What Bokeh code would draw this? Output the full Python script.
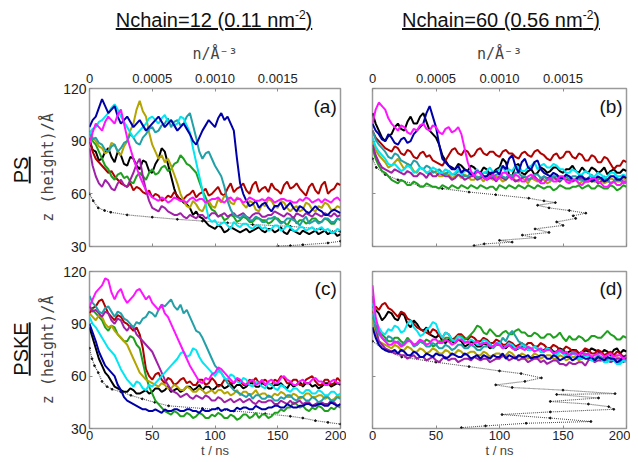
from bokeh.plotting import figure
from bokeh.models import Range1d, LinearAxis, FixedTicker, CustomJSTickFormatter, Label, Div
from bokeh.layouts import row, column
from bokeh.embed import file_html
from bokeh.resources import INLINE

# ---------------- data ----------------
T = [0, 2.5, 5, 7.5, 10, 12.5, 15, 17.5,
     20, 22.5, 25, 27.5, 30, 32.5, 35, 37.5,
     40, 42.5, 45, 47.5, 50, 52.5, 55, 57.5,
     60, 62.5, 65, 67.5, 70, 72.5, 75, 77.5,
     80, 82.5, 85, 87.5, 90, 92.5, 95, 97.5,
     100, 102.5, 105, 107.5, 110, 112.5, 115, 117.5,
     120, 122.5, 125, 127.5, 130, 132.5, 135, 137.5,
     140, 142.5, 145, 147.5, 150, 152.5, 155, 157.5,
     160, 162.5, 165, 167.5, 170, 172.5, 175, 177.5,
     180, 182.5, 185, 187.5, 190, 192.5, 195, 197.5,
     200]
X_TICKS = [0, 50, 100, 150, 200]
Y_TICKS = [30, 60, 90, 120]
N_TICKS = [0, 0.0005, 0.001, 0.0015]
COL_TITLES = ["Nchain=12 (0.11 nm", "Nchain=60 (0.56 nm"]
ROW_TITLES = ["PS", "PSKE"]
TAGS = ["(a)", "(b)", "(c)", "(d)"]

# ---- panel (a): PS, Nchain=12 ----
a_black = [90, 85, 84, 79, 80, 84, 86, 81, 78, 84, 82, 77, 76, 81, 80, 76,
           74, 79, 78, 73, 72, 77, 80, 86, 84, 77, 70, 63, 58, 57, 55, 54,
           52, 48, 50, 47, 46, 44, 42, 41, 40, 42, 41, 38, 39, 41, 40, 39,
           38, 39, 40, 38, 39, 40, 41, 39, 38, 40, 40, 38, 39, 41, 38, 37,
           40, 39, 38, 37, 39, 38, 37, 38, 39, 37, 38, 39, 37, 38, 38, 36, 37]
a_red = [92, 84, 80, 78, 76, 74, 72, 73, 70, 68, 66, 65, 64, 66, 62, 64,
         63, 61, 60, 62, 58, 60, 59, 56, 57, 59, 58, 61, 59, 56, 57, 59,
         60, 62, 58, 60, 61, 63, 59, 60, 62, 64, 60, 59, 63, 66, 61, 63,
         64, 66, 62, 60, 65, 67, 61, 63, 64, 61, 66, 63, 62, 60, 65, 67,
         63, 64, 66, 63, 61, 59, 64, 66, 62, 60, 65, 67, 60, 62, 63, 66, 65]
a_green = [96, 90, 88, 84, 80, 76, 74, 70, 68, 71, 72, 69, 70, 67, 66, 70,
           72, 70, 68, 72, 74, 71, 72, 75, 76, 73, 74, 77, 78, 82, 80, 77,
           76, 74, 72, 67, 62, 58, 54, 51, 50, 47, 48, 45, 46, 48, 47, 44,
           45, 47, 46, 44, 44, 46, 46, 45, 45, 43, 44, 46, 46, 44, 44, 42,
           45, 47, 43, 45, 45, 43, 44, 46, 46, 44, 44, 46, 45, 43, 43, 46, 45]
a_olive = [95, 92, 90, 87, 86, 83, 84, 89, 88, 84, 82, 87, 90, 96, 100, 108,
           113, 107, 104, 95, 88, 84, 80, 82, 78, 80, 76, 71, 66, 60, 56, 53,
           52, 56, 54, 51, 50, 54, 56, 53, 52, 57, 55, 59, 58, 55, 54, 58,
           57, 54, 52, 56, 55, 51, 50, 54, 53, 57, 56, 53, 52, 56, 55, 52,
           50, 52, 53, 50, 51, 55, 54, 51, 50, 53, 52, 55, 54, 51, 51, 53, 52]
a_purple = [86, 76, 70, 66, 64, 68, 66, 63, 62, 66, 68, 65, 64, 68, 72, 77,
            80, 70, 62, 56, 52, 51, 50, 53, 52, 50, 49, 48, 48, 49, 47, 46,
            48, 47, 46, 48, 48, 46, 47, 49, 49, 47, 48, 49, 47, 48, 49, 47,
            48, 49, 47, 46, 48, 49, 49, 47, 47, 48, 48, 50, 49, 48, 47, 49,
            48, 46, 49, 48, 47, 49, 48, 47, 49, 48, 47, 49, 48, 47, 49, 47, 48]
a_teal = [95, 91, 92, 89, 88, 85, 84, 87, 88, 84, 86, 89, 90, 94, 92, 89,
          88, 92, 94, 97, 98, 95, 96, 99, 100, 103, 98, 101, 102, 99, 100, 104,
          106, 99, 92, 84, 80, 83, 84, 80, 76, 73, 70, 64, 56, 51, 48, 47,
          46, 48, 47, 45, 45, 47, 46, 44, 44, 46, 46, 47, 45, 43, 44, 46,
          46, 45, 44, 42, 45, 47, 43, 44, 45, 43, 44, 46, 46, 44, 44, 46, 45]
a_cyan = [94, 97, 98, 101, 102, 104, 106, 109, 111, 108, 104, 101, 98, 95, 92, 94,
          96, 98, 100, 103, 104, 102, 100, 103, 105, 101, 102, 99, 100, 104, 103, 99,
          95, 86, 78, 70, 62, 54, 46, 44, 45, 42, 43, 44, 42, 40, 44, 42,
          41, 43, 43, 41, 40, 42, 42, 40, 41, 39, 40, 42, 42, 39, 40, 42,
          41, 39, 39, 41, 41, 39, 40, 41, 39, 40, 41, 39, 40, 38, 38, 40, 39]
a_blue = [98, 102, 104, 109, 114, 110, 106, 108, 110, 104, 100, 102, 104, 101, 98, 100,
          102, 99, 96, 98, 100, 102, 104, 101, 98, 100, 102, 99, 96, 98, 100, 97,
          94, 90, 88, 92, 96, 99, 102, 100, 98, 103, 106, 102, 104, 100, 96, 80,
          66, 60, 56, 53, 54, 56, 52, 54, 55, 52, 50, 53, 53, 55, 51, 53,
          55, 52, 50, 53, 52, 50, 49, 51, 53, 51, 50, 48, 48, 50, 51, 50, 49]
a_magenta = [88, 95, 100, 98, 96, 101, 104, 102, 100, 105, 108, 100, 92, 86, 80, 75,
             70, 66, 62, 60, 58, 57, 56, 58, 57, 55, 56, 58, 57, 56, 56, 55,
             57, 58, 56, 57, 57, 55, 56, 57, 57, 58, 56, 55, 57, 58, 56, 57,
             57, 55, 56, 58, 57, 56, 56, 57, 56, 58, 57, 55, 56, 57, 57, 56,
             56, 55, 55, 57, 56, 58, 57, 55, 56, 57, 55, 57, 56, 55, 57, 58, 56]

# ---- panel (b): PS, Nchain=60 ----
b_black = [106, 100, 96, 92, 90, 93, 94, 98, 100, 97, 96, 101, 104, 100, 100, 104,
           106, 101, 96, 94, 92, 88, 82, 79, 76, 75, 74, 77, 76, 74, 73, 76,
           75, 73, 72, 75, 74, 71, 72, 74, 75, 80, 78, 71, 70, 76, 77, 72,
           71, 73, 74, 71, 72, 75, 74, 72, 73, 75, 75, 73, 72, 74, 74, 76,
           73, 72, 75, 73, 72, 75, 74, 72, 73, 75, 71, 73, 74, 72, 72, 74, 73]
b_red = [96, 92, 90, 88, 86, 85, 84, 87, 86, 83, 82, 85, 84, 81, 80, 83,
         84, 81, 82, 79, 78, 77, 76, 79, 82, 85, 86, 83, 82, 85, 84, 81,
         82, 85, 86, 83, 82, 84, 84, 82, 81, 84, 85, 83, 83, 81, 80, 83,
         84, 82, 81, 84, 85, 83, 82, 80, 79, 82, 83, 80, 81, 84, 84, 81,
         80, 83, 82, 79, 79, 82, 81, 78, 78, 81, 80, 77, 74, 76, 76, 79, 78]
b_green = [86, 80, 76, 73, 72, 70, 68, 67, 66, 68, 67, 65, 65, 67, 66, 64,
           64, 66, 65, 64, 64, 63, 65, 64, 63, 65, 64, 63, 65, 64, 63, 65,
           64, 63, 65, 64, 63, 64, 64, 62, 65, 64, 63, 65, 64, 63, 65, 64,
           63, 65, 64, 63, 65, 64, 63, 64, 64, 62, 63, 65, 64, 63, 63, 64,
           64, 65, 63, 64, 65, 63, 63, 65, 64, 63, 63, 65, 64, 62, 63, 65, 64]
b_olive = [90, 85, 82, 80, 78, 75, 76, 78, 80, 77, 74, 77, 76, 73, 72, 75,
           74, 72, 71, 73, 72, 70, 70, 72, 71, 69, 70, 71, 69, 71, 70, 68,
           68, 70, 69, 67, 70, 69, 68, 70, 69, 67, 68, 70, 69, 68, 67, 69,
           68, 66, 69, 68, 67, 69, 68, 66, 67, 69, 68, 67, 69, 70, 67, 68,
           68, 66, 67, 69, 68, 67, 67, 69, 68, 66, 67, 69, 68, 67, 67, 69, 68]
b_purple = [88, 82, 78, 75, 74, 73, 72, 74, 73, 72, 71, 73, 72, 70, 70, 72,
            71, 69, 72, 70, 70, 72, 71, 70, 70, 68, 69, 71, 70, 68, 69, 70,
            70, 68, 69, 70, 68, 69, 69, 67, 70, 69, 68, 70, 69, 67, 68, 69,
            70, 68, 69, 70, 68, 67, 70, 69, 69, 70, 68, 67, 69, 68, 68, 67,
            68, 69, 69, 67, 67, 68, 68, 66, 67, 69, 68, 66, 67, 69, 68, 67, 67]
b_teal = [96, 91, 88, 86, 84, 81, 80, 83, 82, 79, 78, 77, 76, 79, 78, 75,
          74, 76, 75, 72, 73, 74, 72, 71, 73, 71, 71, 73, 72, 70, 70, 72,
          71, 69, 70, 72, 72, 70, 70, 71, 71, 70, 69, 71, 70, 72, 72, 70,
          70, 68, 69, 71, 71, 69, 70, 68, 68, 70, 70, 68, 69, 70, 68, 70,
          70, 68, 68, 67, 69, 71, 67, 68, 69, 70, 68, 66, 67, 69, 68, 66, 67]
b_cyan = [92, 87, 84, 82, 80, 77, 76, 77, 75, 73, 74, 76, 75, 72, 73, 75,
          74, 72, 73, 75, 74, 72, 72, 74, 73, 71, 72, 74, 71, 73, 73, 71,
          72, 74, 71, 72, 73, 75, 72, 73, 74, 76, 72, 74, 73, 76, 75, 73,
          73, 75, 76, 78, 74, 76, 77, 75, 75, 77, 76, 74, 74, 72, 72, 74,
          73, 71, 71, 73, 72, 70, 70, 72, 71, 69, 70, 72, 72, 70, 70, 71, 70]
b_blue = [100, 96, 94, 91, 90, 94, 92, 89, 88, 91, 92, 89, 90, 94, 96, 98,
          100, 106, 110, 104, 98, 88, 80, 78, 76, 74, 74, 76, 72, 74, 73, 71,
          71, 73, 72, 70, 70, 72, 72, 73, 71, 76, 74, 80, 82, 76, 72, 78,
          80, 75, 74, 78, 79, 74, 72, 71, 70, 72, 71, 69, 69, 71, 70, 68,
          68, 70, 70, 68, 69, 67, 68, 70, 69, 67, 68, 70, 70, 68, 68, 70, 69]
b_magenta = [100, 108, 112, 110, 108, 103, 100, 98, 96, 99, 98, 95, 94, 97, 96, 99,
             100, 97, 96, 99, 98, 95, 94, 97, 98, 95, 96, 98, 94, 86, 78, 73,
             70, 73, 72, 69, 68, 70, 71, 68, 69, 72, 72, 70, 68, 71, 70, 67,
             67, 70, 71, 69, 68, 66, 66, 68, 69, 67, 67, 70, 70, 67, 66, 68,
             68, 66, 65, 67, 67, 69, 69, 67, 66, 64, 64, 66, 67, 65, 65, 67, 66]

# ---- panel (c): PSKE, Nchain=12 ----
c_black = [88, 82, 76, 70, 66, 62, 60, 57, 54, 53, 52, 51, 51, 53, 52, 50,
           50, 51, 52, 50, 51, 53, 53, 51, 52, 54, 51, 52, 53, 51, 52, 54,
           54, 52, 53, 55, 52, 54, 54, 52, 53, 55, 55, 53, 54, 56, 53, 55,
           55, 53, 54, 56, 56, 54, 54, 56, 55, 53, 53, 55, 55, 56, 54, 53,
           56, 54, 55, 57, 54, 56, 56, 54, 55, 53, 54, 56, 56, 54, 55, 56, 55]
c_red = [96, 99, 100, 103, 104, 100, 96, 94, 92, 95, 94, 91, 90, 88, 86, 88,
         84, 76, 64, 60, 58, 61, 62, 58, 56, 59, 58, 55, 56, 58, 59, 56,
         57, 55, 55, 58, 58, 55, 56, 59, 57, 54, 55, 58, 58, 56, 56, 58,
         57, 55, 55, 58, 57, 59, 56, 57, 58, 56, 55, 58, 57, 60, 59, 56,
         56, 58, 58, 55, 55, 58, 59, 60, 57, 55, 55, 58, 58, 55, 56, 59, 57]
c_green = [100, 98, 96, 94, 92, 88, 86, 89, 88, 84, 82, 80, 80, 83, 82, 78,
           76, 68, 60, 54, 50, 46, 44, 42, 40, 39, 38, 40, 39, 37, 37, 39,
           38, 36, 37, 39, 38, 36, 36, 38, 37, 39, 38, 36, 36, 38, 37, 35,
           36, 38, 38, 36, 37, 39, 36, 38, 38, 36, 37, 39, 39, 41, 40, 42,
           42, 45, 44, 42, 43, 41, 40, 42, 41, 43, 42, 40, 40, 42, 41, 43, 42]
c_olive = [96, 94, 92, 95, 94, 90, 88, 89, 86, 84, 82, 80, 78, 74, 70, 66,
           62, 60, 58, 57, 56, 55, 54, 56, 55, 53, 53, 55, 54, 52, 52, 54,
           53, 51, 51, 53, 52, 50, 51, 52, 50, 52, 52, 50, 51, 49, 50, 52,
           49, 51, 51, 49, 50, 52, 49, 50, 50, 48, 48, 50, 49, 51, 50, 48,
           48, 50, 49, 47, 48, 50, 50, 48, 48, 49, 49, 47, 48, 46, 47, 49, 48]
c_purple = [100, 97, 98, 96, 94, 97, 96, 92, 90, 93, 92, 88, 86, 89, 88, 84,
            82, 80, 78, 76, 74, 70, 66, 62, 58, 55, 52, 51, 50, 48, 49, 50,
            48, 47, 49, 48, 47, 49, 48, 46, 46, 48, 47, 45, 46, 47, 45, 46,
            47, 45, 46, 47, 45, 44, 46, 45, 45, 46, 46, 44, 44, 46, 45, 44,
            46, 44, 45, 46, 44, 45, 45, 43, 44, 45, 45, 44, 44, 46, 45, 43, 44]
c_teal = [106, 102, 100, 97, 96, 99, 100, 97, 94, 97, 96, 93, 92, 90, 88, 91,
          90, 93, 94, 97, 96, 94, 98, 101, 100, 102, 104, 100, 98, 101, 96, 98,
          94, 90, 86, 85, 82, 78, 74, 70, 66, 64, 62, 59, 56, 54, 52, 51,
          50, 49, 48, 50, 47, 49, 49, 47, 47, 49, 48, 46, 46, 48, 47, 49,
          49, 47, 46, 48, 48, 46, 46, 48, 47, 45, 46, 48, 48, 46, 46, 48, 47]
c_magenta = [100, 104, 108, 110, 112, 116, 115, 108, 104, 108, 110, 105, 102, 104, 106, 109,
             110, 107, 104, 106, 102, 100, 98, 101, 96, 94, 90, 86, 82, 78, 74, 70,
             66, 63, 60, 57, 56, 59, 58, 61, 62, 65, 64, 62, 60, 58, 56, 59,
             58, 56, 55, 57, 58, 55, 56, 58, 55, 57, 58, 56, 56, 59, 60, 58,
             57, 55, 55, 57, 58, 56, 56, 58, 59, 57, 57, 55, 55, 57, 58, 56, 56]
c_cyan = [94, 90, 88, 85, 82, 79, 76, 74, 72, 68, 64, 61, 58, 56, 54, 57,
          56, 53, 52, 55, 54, 56, 58, 60, 62, 64, 66, 68, 70, 73, 74, 71,
          72, 76, 75, 71, 68, 66, 64, 62, 60, 63, 62, 59, 58, 61, 60, 57,
          56, 59, 58, 55, 54, 57, 56, 54, 53, 56, 55, 53, 52, 55, 54, 52,
          51, 53, 53, 51, 50, 52, 52, 50, 50, 52, 51, 49, 49, 51, 51, 49, 50]
c_blue = [90, 85, 80, 74, 70, 66, 64, 62, 60, 55, 52, 48, 46, 45, 44, 43,
          42, 41, 41, 40, 40, 41, 40, 39, 41, 40, 40, 41, 41, 40, 40, 41,
          41, 40, 40, 39, 41, 40, 40, 41, 41, 42, 40, 41, 41, 40, 40, 42,
          41, 42, 42, 41, 41, 43, 42, 41, 41, 42, 42, 43, 43, 42, 42, 44,
          43, 42, 42, 43, 43, 44, 44, 43, 43, 44, 44, 43, 43, 45, 44, 43, 44]

# ---- panel (d): PSKE, Nchain=60 ----
d_black = [100, 98, 96, 92, 94, 97, 96, 93, 92, 96, 95, 90, 88, 92, 90, 87,
           86, 88, 84, 83, 82, 84, 80, 79, 81, 80, 79, 81, 80, 77, 78, 80,
           79, 77, 77, 79, 78, 76, 77, 78, 78, 77, 76, 78, 77, 75, 76, 77,
           77, 75, 75, 77, 76, 74, 75, 76, 76, 74, 74, 76, 75, 73, 74, 75,
           75, 73, 73, 75, 74, 76, 75, 74, 73, 75, 74, 72, 75, 76, 73, 75, 74]
d_red = [96, 100, 98, 101, 102, 99, 98, 96, 94, 97, 96, 93, 92, 90, 88, 87,
         86, 85, 84, 87, 86, 83, 82, 85, 84, 81, 82, 84, 84, 82, 81, 83,
         82, 80, 80, 82, 81, 79, 79, 81, 80, 78, 78, 80, 79, 77, 78, 79,
         77, 79, 79, 77, 77, 79, 78, 76, 76, 78, 77, 75, 75, 77, 76, 74,
         75, 73, 74, 76, 75, 73, 73, 75, 74, 72, 73, 74, 72, 74, 73, 71, 72]
d_green = [94, 89, 86, 84, 82, 80, 80, 82, 82, 80, 79, 82, 80, 78, 78, 80,
           79, 81, 80, 77, 78, 80, 80, 82, 82, 80, 81, 83, 83, 81, 82, 84,
           86, 89, 88, 85, 84, 87, 85, 83, 83, 85, 86, 84, 84, 86, 87, 85,
           85, 83, 83, 85, 84, 82, 82, 84, 84, 82, 83, 85, 82, 80, 83, 81,
           81, 83, 82, 80, 81, 83, 83, 82, 82, 84, 86, 84, 83, 81, 81, 83, 82]
d_olive = [92, 84, 80, 79, 78, 77, 76, 78, 77, 75, 75, 77, 76, 74, 74, 76,
           75, 73, 74, 76, 75, 73, 73, 75, 74, 72, 73, 75, 74, 72, 73, 74,
           74, 72, 72, 74, 73, 71, 72, 73, 73, 71, 72, 74, 73, 71, 71, 73,
           72, 70, 71, 73, 72, 70, 71, 72, 72, 70, 70, 72, 71, 69, 70, 71,
           71, 69, 70, 72, 71, 69, 70, 71, 69, 71, 70, 68, 69, 71, 70, 69, 70]
d_purple = [106, 88, 80, 78, 76, 75, 74, 73, 73, 72, 72, 70, 71, 72, 70, 71,
            71, 69, 70, 71, 69, 68, 70, 71, 69, 70, 70, 68, 69, 70, 70, 69,
            71, 70, 69, 70, 70, 68, 69, 70, 70, 72, 71, 69, 70, 71, 69, 70,
            70, 68, 69, 70, 70, 68, 69, 67, 68, 69, 69, 67, 67, 66, 68, 67,
            67, 68, 68, 66, 69, 70, 68, 69, 69, 71, 70, 68, 69, 70, 70, 68, 69]
d_teal = [96, 88, 84, 82, 80, 83, 82, 79, 80, 78, 79, 81, 80, 77, 78, 80,
          79, 77, 77, 79, 78, 76, 76, 78, 77, 75, 76, 78, 78, 76, 76, 78,
          77, 75, 75, 77, 77, 79, 76, 78, 78, 82, 80, 84, 86, 83, 80, 79,
          78, 76, 75, 77, 76, 74, 74, 76, 75, 73, 73, 75, 74, 72, 72, 74,
          73, 71, 71, 73, 72, 70, 70, 72, 71, 69, 69, 71, 70, 68, 68, 70, 69]
d_cyan = [102, 92, 88, 85, 84, 87, 86, 89, 88, 85, 86, 90, 92, 88, 86, 83,
          84, 87, 88, 91, 90, 85, 82, 85, 84, 81, 80, 83, 82, 80, 79, 81,
          80, 78, 78, 81, 80, 78, 77, 79, 79, 76, 77, 79, 78, 76, 76, 78,
          77, 75, 75, 77, 76, 74, 74, 76, 75, 73, 72, 74, 73, 71, 71, 73,
          72, 70, 70, 72, 71, 69, 69, 71, 70, 68, 68, 70, 69, 67, 67, 69, 68]
d_blue = [88, 82, 78, 76, 75, 74, 74, 75, 73, 75, 74, 72, 72, 74, 73, 71,
          71, 73, 72, 71, 73, 72, 72, 70, 71, 73, 72, 71, 71, 73, 72, 70,
          71, 72, 70, 72, 71, 70, 72, 71, 71, 73, 70, 72, 71, 70, 72, 71,
          71, 72, 70, 71, 71, 72, 72, 70, 70, 72, 71, 69, 70, 71, 71, 69,
          70, 72, 71, 70, 70, 71, 69, 71, 70, 69, 71, 70, 70, 68, 69, 71, 70]
d_magenta = [112, 94, 86, 82, 80, 78, 78, 80, 79, 77, 78, 80, 80, 78, 79, 81,
             80, 78, 79, 81, 81, 79, 79, 81, 80, 78, 79, 81, 81, 79, 80, 78,
             79, 80, 78, 79, 79, 77, 77, 79, 78, 76, 77, 78, 76, 75, 77, 76,
             75, 77, 76, 74, 75, 76, 74, 75, 75, 73, 74, 75, 73, 74, 72, 73,
             73, 72, 74, 72, 73, 71, 72, 73, 73, 71, 72, 73, 71, 72, 72, 70, 71]

# density profiles: z (A) against n (A^-3), top axis
a_prof_z = [60, 56, 52, 50.5, 49.5, 48, 46.7, 45.5, 44.5, 43.5, 42.5, 41.5, 40, 38.5, 37, 35,
            33, 32, 31, 30.5, 30.2]
a_prof_n = [0, 0.00003, 0.00007, 0.00012, 0.00017, 0.0003, 0.0005, 0.0007, 0.0009, 0.0011, 0.0013,
            0.0016, 0.00184, 0.002, 0.0024, 0.0026, 0.002, 0.0019, 0.0017, 0.0016, 0.0015]
b_prof_z = [80, 75, 71, 68, 65, 63, 61, 59.5, 57.5, 56, 55, 53.5, 52, 50.5, 49, 47.5, 46, 44, 42, 40,
            38, 36.5, 35, 33.5, 32.5, 31.5, 30.5]
b_prof_n = [0, 0.00003, 0.0001, 0.0002, 0.00036, 0.00055, 0.00076, 0.00097, 0.00123, 0.00135, 0.00144,
            0.0013, 0.00139, 0.00155, 0.00168, 0.00158, 0.0016, 0.00145, 0.0015, 0.00128, 0.00139,
            0.00118, 0.00128, 0.001, 0.0011, 0.00088, 0.0008]
c_prof_z = [76, 70, 66, 62, 57, 54, 52.5, 51, 49, 47, 45, 43, 41.5, 40, 38.5, 37, 36, 34.5, 33.5, 32.5]
c_prof_n = [0, 0.00002, 0.00004, 0.00007, 0.0001, 0.00014, 0.00018, 0.00025, 0.00033, 0.00042, 0.00052,
            0.00063, 0.0009, 0.00115, 0.0014, 0.0016, 0.0017, 0.0018, 0.0019, 0.002]
d_prof_z = [80, 75, 71, 68, 65.5, 63, 61.5, 59, 57, 55, 53.5, 52, 50, 49.5, 47.5, 45.5, 44, 42.5, 41,
            39.5, 38, 36, 34, 33, 31.5, 30.5]
d_prof_n = [0, 0.0001, 0.00023, 0.0005, 0.00076, 0.001, 0.00117, 0.00133, 0.0012, 0.00097, 0.0011, 0.0015,
            0.00191, 0.00145, 0.00178, 0.0014, 0.0017, 0.00186, 0.0019, 0.0014, 0.00102, 0.0014, 0.00172,
            0.00121, 0.00089, 0.0007]

COLORS = {
    "black": "#000000", "red": "#b00000", "green": "#1ea01e", "olive": "#b4a400",
    "purple": "#a020a8", "teal": "#22a0a8", "cyan": "#00e6f2", "blue": "#0000a8",
    "magenta": "#ff14ff",
}
ORDER = ["black", "red", "green", "olive", "purple", "teal", "cyan", "blue", "magenta"]

PANELS = {
    "a": dict(black=a_black, red=a_red, green=a_green, olive=a_olive, purple=a_purple,
              teal=a_teal, cyan=a_cyan, blue=a_blue, magenta=a_magenta),
    "b": dict(black=b_black, red=b_red, green=b_green, olive=b_olive, purple=b_purple,
              teal=b_teal, cyan=b_cyan, blue=b_blue, magenta=b_magenta),
    "c": dict(black=c_black, red=c_red, green=c_green, olive=c_olive, purple=c_purple,
              teal=c_teal, cyan=c_cyan, blue=c_blue, magenta=c_magenta),
    "d": dict(black=d_black, red=d_red, green=d_green, olive=d_olive, purple=d_purple,
              teal=d_teal, cyan=d_cyan, blue=d_blue, magenta=d_magenta),
}
PROFILES = {"a": (a_prof_n, a_prof_z), "b": (b_prof_n, b_prof_z),
            "c": (c_prof_n, c_prof_z), "d": (d_prof_n, d_prof_z)}

TICK_FONT = "Liberation Sans"
MONO = "DejaVu Sans Mono"
GRAY = "#8c8c8c"


def style_axis(ax, show_labels, size="13px"):
    ax.axis_line_color = None
    ax.major_tick_in = 3
    ax.major_tick_out = 0
    ax.major_tick_line_color = GRAY
    ax.minor_tick_line_color = None
    ax.major_label_text_font = TICK_FONT
    if show_labels:
        ax.major_label_text_color = "#222222"
        ax.major_label_text_font_size = size
        ax.major_label_standoff = 3
    else:
        ax.major_label_text_color = None
        ax.major_label_text_font_size = "1px"
        ax.major_label_standoff = 0


def make_panel(key, left_col, top_row):
    width = 310 if left_col else 284
    height = 224 if top_row else 206
    p = figure(width=width, height=height,
               x_range=Range1d(0, 200), y_range=Range1d(30, 120),
               output_backend="svg", toolbar_location=None,
               min_border_left=52 if left_col else 26,
               min_border_right=6 if left_col else 4,
               min_border_top=58 if top_row else 17,
               min_border_bottom=8 if top_row else 31)
    p.margin = 0
    p.extra_x_ranges = {"n": Range1d(0, 0.002)}
    p.grid.visible = False
    p.outline_line_color = "#9a9a9a"
    p.outline_line_width = 1.5
    p.background_fill_color = "white"
    p.border_fill_color = "white"

    pn, pz = PROFILES[key]
    p.line(pn, pz, x_range_name="n", line_color="#555555", line_width=1.1, line_dash="1 1")
    p.scatter(pn, pz, x_range_name="n", size=1.8, color="#111111")

    for name in ORDER:
        vals = PANELS[key][name]
        p.line(T[:len(vals)], vals, line_color=COLORS[name], line_width=2)

    xa = p.xaxis[0]
    ya = p.yaxis[0]
    xa.ticker = FixedTicker(ticks=X_TICKS)
    ya.ticker = FixedTicker(ticks=Y_TICKS)
    style_axis(xa, not top_row, "13px")
    style_axis(ya, left_col, "14px")
    if not top_row:
        xa.major_label_standoff = 2
        xa.axis_label = "t / ns"
        xa.axis_label_text_font = TICK_FONT
        xa.axis_label_text_font_style = "normal"
        xa.axis_label_text_font_size = "13px"
        xa.axis_label_standoff = 0
    if left_col:
        ya.axis_label = "z (height)/Å"
        ya.axis_label_text_font = MONO
        ya.axis_label_text_font_style = "normal"
        ya.axis_label_text_font_size = "15px"
        ya.axis_label_standoff = 3
    if top_row:
        top = LinearAxis(x_range_name="n", ticker=FixedTicker(ticks=N_TICKS),
                         formatter=CustomJSTickFormatter(code="return tick == 0 ? '0' : tick.toFixed(4);"),
                         axis_label="n/Å⁻³")
        style_axis(top, True, "13px")
        top.major_label_standoff = 6
        top.axis_label_text_font = MONO
        top.axis_label_text_font_style = "normal"
        top.axis_label_text_font_size = "15px"
        top.axis_label_standoff = 8
        p.add_layout(top, "above")

    tag = TAGS["abcd".index(key)]
    p.add_layout(Label(x=197, y=110, text=tag, text_align="right", text_baseline="middle",
                       text_font=TICK_FONT, text_font_size="19px", text_color="#111111"))
    return p


fa = make_panel("a", True, True)
fb = make_panel("b", False, True)
fc = make_panel("c", True, False)
fd = make_panel("d", False, False)

sup = '<sup style="font-size:12px;line-height:0">-2</sup>'
title_html = (
    '<div style="position:relative;width:630px;height:30px;font-family:\'Liberation Sans\',sans-serif;'
    'font-size:20px;line-height:22px;color:#111;">'
    f'<span style="position:absolute;left:214px;top:9px;transform:translateX(-50%);white-space:nowrap;'
    f'text-decoration:underline;">{COL_TITLES[0]}{sup})</span>'
    f'<span style="position:absolute;left:501px;top:9px;transform:translateX(-50%);white-space:nowrap;'
    f'text-decoration:underline;">{COL_TITLES[1]}{sup})</span>'
    '</div>')
title_div = Div(text=title_html, width=630, height=30, margin=0)


def row_label(text, h, cy):
    html = (f'<div style="position:relative;width:36px;height:{h}px;">'
            f'<span style="position:absolute;left:21px;top:{cy}px;transform:translate(-50%,-50%) rotate(-90deg);'
            f'white-space:nowrap;font-family:\'Liberation Sans\',sans-serif;font-size:20px;color:#111;'
            f'text-decoration:underline;">{text}</span></div>')
    return Div(text=html, width=36, height=h, margin=0)


lab_ps = row_label(ROW_TITLES[0], 224, 140)
lab_pske = row_label(ROW_TITLES[1], 206, 95)

layout = column(title_div, row(lab_ps, fa, fb), row(lab_pske, fc, fd))

open("out.html", "w").write(file_html(layout, INLINE))
